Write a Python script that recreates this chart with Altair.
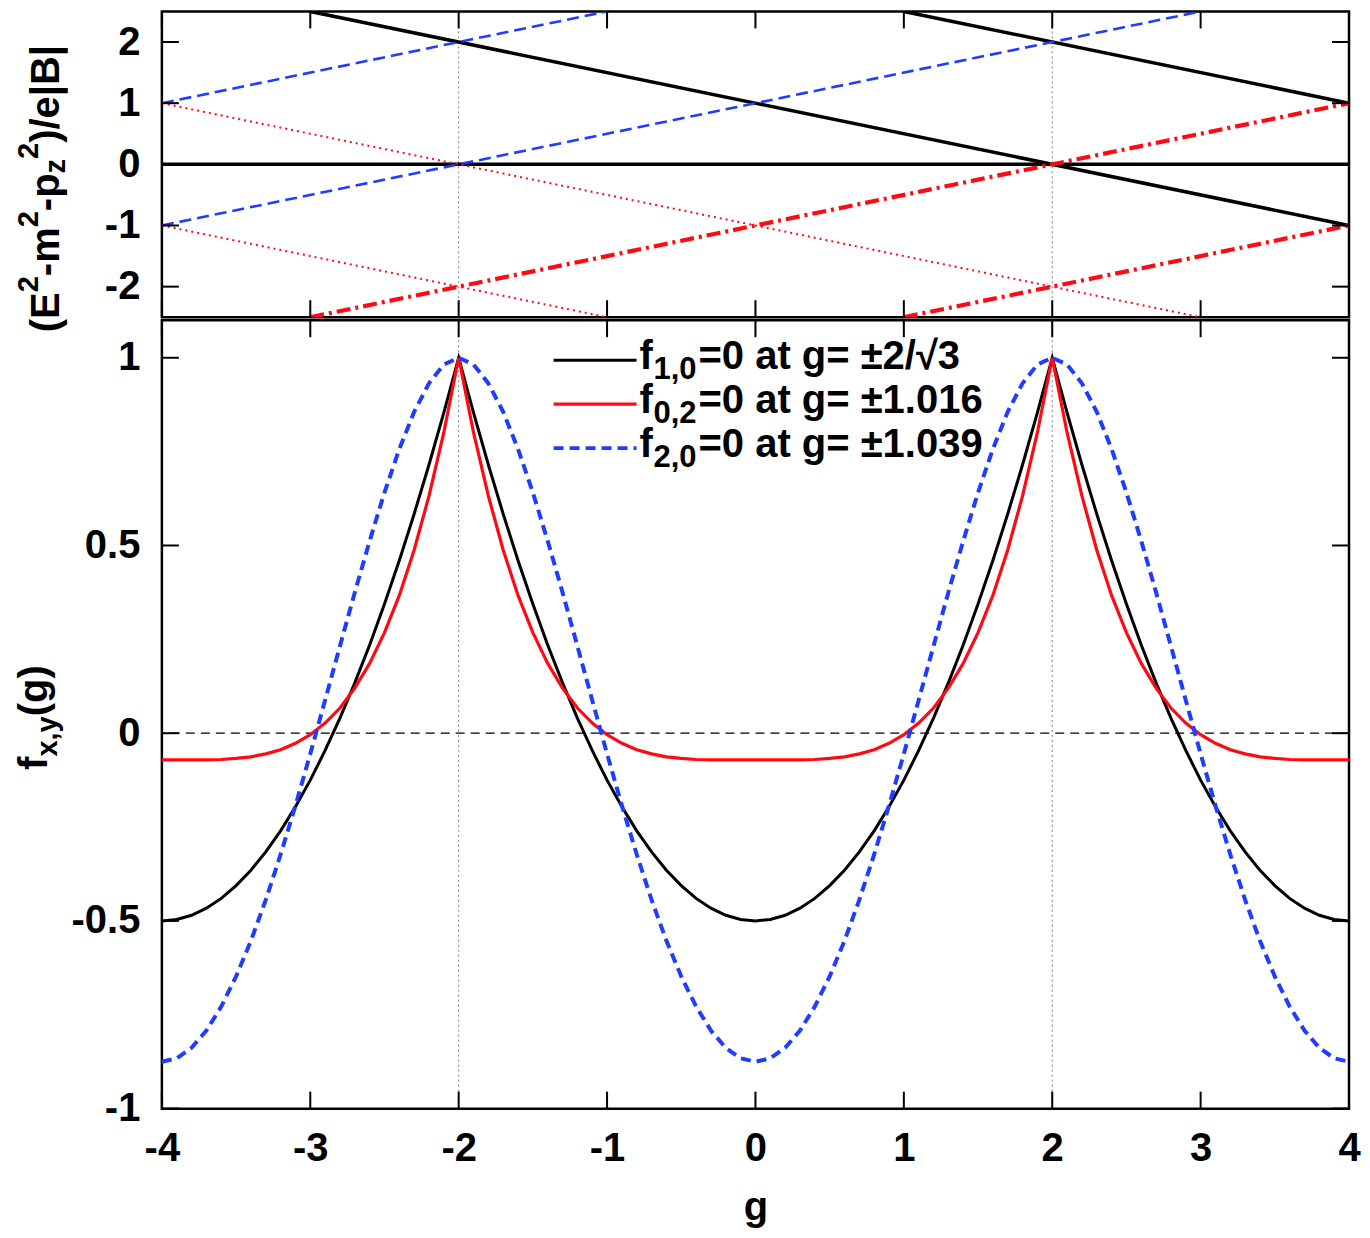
import altair as alt
import pandas as pd

# ---------------- data ----------------
G = [-4.0, -3.9, -3.8, -3.7, -3.6, -3.5, -3.4, -3.3, -3.2, -3.1,
     -3.0, -2.9, -2.8, -2.7, -2.6, -2.5, -2.4, -2.3, -2.2, -2.1,
     -2.0, -1.9, -1.8, -1.7, -1.6, -1.5, -1.4, -1.3, -1.2, -1.1,
     -1.0, -0.9, -0.8, -0.7, -0.6, -0.5, -0.4, -0.3, -0.2, -0.1,
     0.0, 0.1, 0.2, 0.3, 0.4, 0.5, 0.6, 0.7, 0.8, 0.9,
     1.0, 1.1, 1.2, 1.3, 1.4, 1.5, 1.6, 1.7, 1.8, 1.9,
     2.0, 2.1, 2.2, 2.3, 2.4, 2.5, 2.6, 2.7, 2.8, 2.9,
     3.0, 3.1, 3.2, 3.3, 3.4, 3.5, 3.6, 3.7, 3.8, 3.9, 4.0]

F10 = [-0.5, -0.496, -0.485, -0.466, -0.44, -0.406, -0.365, -0.316, -0.26, -0.196,
       -0.125, -0.046, 0.04, 0.134, 0.235, 0.344, 0.46, 0.584, 0.715, 0.854,
       1.0, 0.854, 0.715, 0.584, 0.46, 0.344, 0.235, 0.134, 0.04, -0.046,
       -0.125, -0.196, -0.26, -0.316, -0.365, -0.406, -0.44, -0.466, -0.485, -0.496,
       -0.5, -0.496, -0.485, -0.466, -0.44, -0.406, -0.365, -0.316, -0.26, -0.196,
       -0.125, -0.046, 0.04, 0.134, 0.235, 0.344, 0.46, 0.584, 0.715, 0.854,
       1.0, 0.854, 0.715, 0.584, 0.46, 0.344, 0.235, 0.134, 0.04, -0.046,
       -0.125, -0.196, -0.26, -0.316, -0.365, -0.406, -0.44, -0.466, -0.485, -0.496, -0.5]

F02 = [-0.071, -0.071, -0.071, -0.071, -0.070, -0.067, -0.063, -0.055, -0.044, -0.027,
       -0.004, 0.027, 0.067, 0.120, 0.186, 0.268, 0.367, 0.488, 0.632, 0.801,
       1.0, 0.801, 0.632, 0.488, 0.367, 0.268, 0.186, 0.120, 0.067, 0.027,
       -0.004, -0.027, -0.044, -0.055, -0.063, -0.067, -0.070, -0.071, -0.071, -0.071,
       -0.071, -0.071, -0.071, -0.071, -0.070, -0.067, -0.063, -0.055, -0.044, -0.027,
       -0.004, 0.027, 0.067, 0.120, 0.186, 0.268, 0.367, 0.488, 0.632, 0.801,
       1.0, 0.801, 0.632, 0.488, 0.367, 0.268, 0.186, 0.120, 0.067, 0.027,
       -0.004, -0.027, -0.044, -0.055, -0.063, -0.067, -0.070, -0.071, -0.071, -0.071, -0.071]

F20 = [-0.875, -0.866, -0.838, -0.792, -0.728, -0.648, -0.553, -0.444, -0.323, -0.193,
       -0.055, 0.088, 0.232, 0.375, 0.512, 0.641, 0.757, 0.856, 0.932, 0.982,
       1.0, 0.982, 0.932, 0.856, 0.757, 0.641, 0.512, 0.375, 0.232, 0.088,
       -0.055, -0.193, -0.323, -0.444, -0.553, -0.648, -0.728, -0.792, -0.838, -0.866,
       -0.875, -0.866, -0.838, -0.792, -0.728, -0.648, -0.553, -0.444, -0.323, -0.193,
       -0.055, 0.088, 0.232, 0.375, 0.512, 0.641, 0.757, 0.856, 0.932, 0.982,
       1.0, 0.982, 0.932, 0.856, 0.757, 0.641, 0.512, 0.375, 0.232, 0.088,
       -0.055, -0.193, -0.323, -0.444, -0.553, -0.648, -0.728, -0.792, -0.838, -0.866, -0.875]

# top panel: straight level lines (segment end points)
SEG_X0 = [-4, -3, 1, -4, -4, -4, -4, -3, 1]
SEG_Y0 = [0, 2.5, 2.5, 1, -1, 1, -1, -2.5, -2.5]
SEG_X1 = [4, 4, 4, -1, 3, 3, -1, 4, 4]
SEG_Y1 = [0, -1, 1, 2.5, 2.5, -2.5, -2.5, 1, -1]
SEG_KIND = ["black", "black", "black", "blue", "blue", "reddot", "reddot", "reddash", "reddash"]

X_TICKS = [-4, -3, -2, -1, 0, 1, 2, 3, 4]
Y_TICKS_TOP = [-2, -1, 0, 1, 2]
Y_TICKS_BOT = [-1, -0.5, 0, 0.5, 1]
MARK_G = [-2, 2]
ZERO = [0]

LEG_SUB = ["1,0", "0,2", "2,0"]
LEG_REST = ["=0 at g= \u00b12/\u221a3", "=0 at g= \u00b11.016", "=0 at g= \u00b11.039"]

# ---------------- style ----------------
FONT = "Liberation Sans"
FS = 40
SS = 29
LS = 31
BLACK = "#000000"
RED = "#ff0a14"
BLUE = "#1f3cff"
W = 1188
H_TOP = 306
H_BOT = 789
TICK = 17

WID = {'(': 333, ')': 333, 'E': 667, '-': 333, 'm': 889, 'p': 611, 'z': 500, '2': 556,
       '/': 278, 'e': 556, '|': 280, 'B': 722, 'f': 333, 'x': 556, ',': 278, 'y': 556,
       'g': 611}


def adv(s, size):
    return sum(WID.get(c, 556) for c in s) * size / 1000.0


one = pd.DataFrame({"a": [0]})

xs = alt.Scale(domain=[-4, 4], nice=False, zero=False)
ys_top = alt.Scale(domain=[-2.5, 2.5], nice=False, zero=False)
ys_bot = alt.Scale(domain=[-1, 1.1], nice=False, zero=False)

LBL = "'' + datum.value"
XAX_TOP = None
YAX_TOP = alt.Axis(values=Y_TICKS_TOP, title=None, labelPadding=22, labelExpr=LBL)
XAX_BOT = alt.Axis(values=X_TICKS, title="g", labelPadding=20, titlePadding=19,
                   labelFlush=False, labelExpr=LBL)
YAX_BOT = alt.Axis(values=Y_TICKS_BOT, title=None, labelPadding=22, labelExpr=LBL)


def text_piece(s, px, py, size, angle=0):
    return alt.Chart(one).mark_text(
        text=s, font=FONT, fontSize=size, fontWeight="bold", color="black",
        align="left", baseline="alphabetic", angle=angle
    ).encode(x=alt.value(px), y=alt.value(py))


def rotated_title(pieces, start_y, base_x, sub_dx, sup_dx):
    layers = []
    y = start_y
    for s, kind in pieces:
        size = FS if kind == "n" else SS
        xx = base_x + (0 if kind == "n" else (sub_dx if kind == "sub" else sup_dx))
        layers.append(text_piece(s, xx, y, size, angle=270))
        y -= adv(s, size)
    return layers


def tick_layers(xaxis, yaxis, ys, yvals, height):
    dx = pd.DataFrame({"v": X_TICKS})
    dy = pd.DataFrame({"v": yvals})
    base_kw = dict(color="black", strokeWidth=2)
    return [
        alt.Chart(dx).mark_rule(**base_kw).encode(
            x=alt.X("v:Q", scale=xs, axis=xaxis), y=alt.value(0), y2=alt.value(TICK)),
        alt.Chart(dx).mark_rule(**base_kw).encode(
            x=alt.X("v:Q", scale=xs, axis=xaxis), y=alt.value(height), y2=alt.value(height - TICK)),
        alt.Chart(dy).mark_rule(**base_kw).encode(
            y=alt.Y("v:Q", scale=ys, axis=yaxis), x=alt.value(0), x2=alt.value(TICK)),
        alt.Chart(dy).mark_rule(**base_kw).encode(
            y=alt.Y("v:Q", scale=ys, axis=yaxis), x=alt.value(W - TICK), x2=alt.value(W)),
    ]


# ---------------- top panel ----------------
seg = pd.DataFrame({"x0": SEG_X0, "y0": SEG_Y0, "x1": SEG_X1, "y1": SEG_Y1, "kind": SEG_KIND})
marks_df = pd.DataFrame({"g": MARK_G})

vline_top = alt.Chart(marks_df).mark_rule(color="#7f7f7f", strokeWidth=1, strokeDash=[2, 3]).encode(
    x=alt.X("g:Q", scale=xs, axis=XAX_TOP))

seg_styles = {
    "black": dict(color=BLACK, strokeWidth=3.5),
    "blue": dict(color=BLUE, strokeWidth=2.6, strokeDash=[12, 6]),
    "reddot": dict(color=RED, strokeWidth=2, strokeDash=[2, 4]),
    "reddash": dict(color=RED, strokeWidth=4.2, strokeDash=[14, 5, 3, 5]),
}
seg_layers = []
for k, st in seg_styles.items():
    seg_layers.append(
        alt.Chart(seg).transform_filter(alt.datum.kind == k).mark_rule(clip=True, **st).encode(
            x=alt.X("x0:Q", scale=xs, axis=XAX_TOP), x2="x1:Q",
            y=alt.Y("y0:Q", scale=ys_top, axis=YAX_TOP), y2="y1:Q"))

top_title = rotated_title(
    [("(E", "n"), ("2", "sup"), ("-m", "n"), ("2", "sup"), ("-p", "n"), ("z", "sub"), ("2", "sup"),
     (")/e|B|", "n")],
    start_y=321, base_x=-103, sub_dx=6, sup_dx=-21)

top = alt.layer(
    vline_top, *seg_layers, *tick_layers(XAX_TOP, YAX_TOP, ys_top, Y_TICKS_TOP, H_TOP), *top_title
).properties(width=W, height=H_TOP)

# ---------------- bottom panel ----------------
curves = pd.DataFrame({"g": G, "f10": F10, "f02": F02, "f20": F20})

vline_bot = alt.Chart(marks_df).mark_rule(color="#7f7f7f", strokeWidth=1, strokeDash=[2, 3]).encode(
    x=alt.X("g:Q", scale=xs, axis=XAX_BOT))
zero_line = alt.Chart(pd.DataFrame({"z": ZERO})).mark_rule(
    color="black", strokeWidth=1.2, strokeDash=[9, 6]).encode(
    y=alt.Y("z:Q", scale=ys_bot, axis=YAX_BOT))


def curve(col, **st):
    return alt.Chart(curves).mark_line(**st).encode(
        x=alt.X("g:Q", scale=xs, axis=XAX_BOT),
        y=alt.Y(f"{col}:Q", scale=ys_bot, axis=YAX_BOT))


c_black = curve("f10", color=BLACK, strokeWidth=3)
c_red = curve("f02", color=RED, strokeWidth=3.2)
c_blue = curve("f20", color=BLUE, strokeWidth=4, strokeDash=[10, 6])

leg_layers = []
leg_styles = [dict(color=BLACK, strokeWidth=3), dict(color=RED, strokeWidth=3.2),
              dict(color=BLUE, strokeWidth=4, strokeDash=[10, 6])]
for i in range(3):
    ry = 40 + 44 * i
    leg_layers.append(alt.Chart(one).mark_rule(**leg_styles[i]).encode(
        x=alt.value(392), x2=alt.value(475), y=alt.value(ry)))
    leg_layers.append(text_piece("f", 478, ry + 9, FS))
    leg_layers.append(text_piece(LEG_SUB[i], 492, ry + 19, LS))
    leg_layers.append(text_piece(LEG_REST[i], 537, ry + 9, FS))

bot_title = rotated_title([("f", "n"), ("x,y", "sub"), ("(g)", "n")],
                          start_y=450, base_x=-115, sub_dx=10, sup_dx=-20)

bottom = alt.layer(
    vline_bot, zero_line, c_black, c_red, c_blue,
    *tick_layers(XAX_BOT, YAX_BOT, ys_bot, Y_TICKS_BOT, H_BOT),
    *leg_layers, *bot_title
).properties(width=W, height=H_BOT)

chart = alt.vconcat(top, bottom, spacing=3, bounds="flush").properties(
    padding={"left": 5, "top": 0, "right": 0, "bottom": 0}
).configure_view(stroke="black", strokeWidth=2.5).configure_axis(
    labelFont=FONT, labelFontSize=FS, labelFontWeight="bold", labelColor="black",
    titleFont=FONT, titleFontSize=FS, titleFontWeight="bold", titleColor="black",
    domain=False, ticks=False, tickSize=0, grid=False
)

chart.save("out.html", embed_options={"renderer": "svg", "actions": False})
